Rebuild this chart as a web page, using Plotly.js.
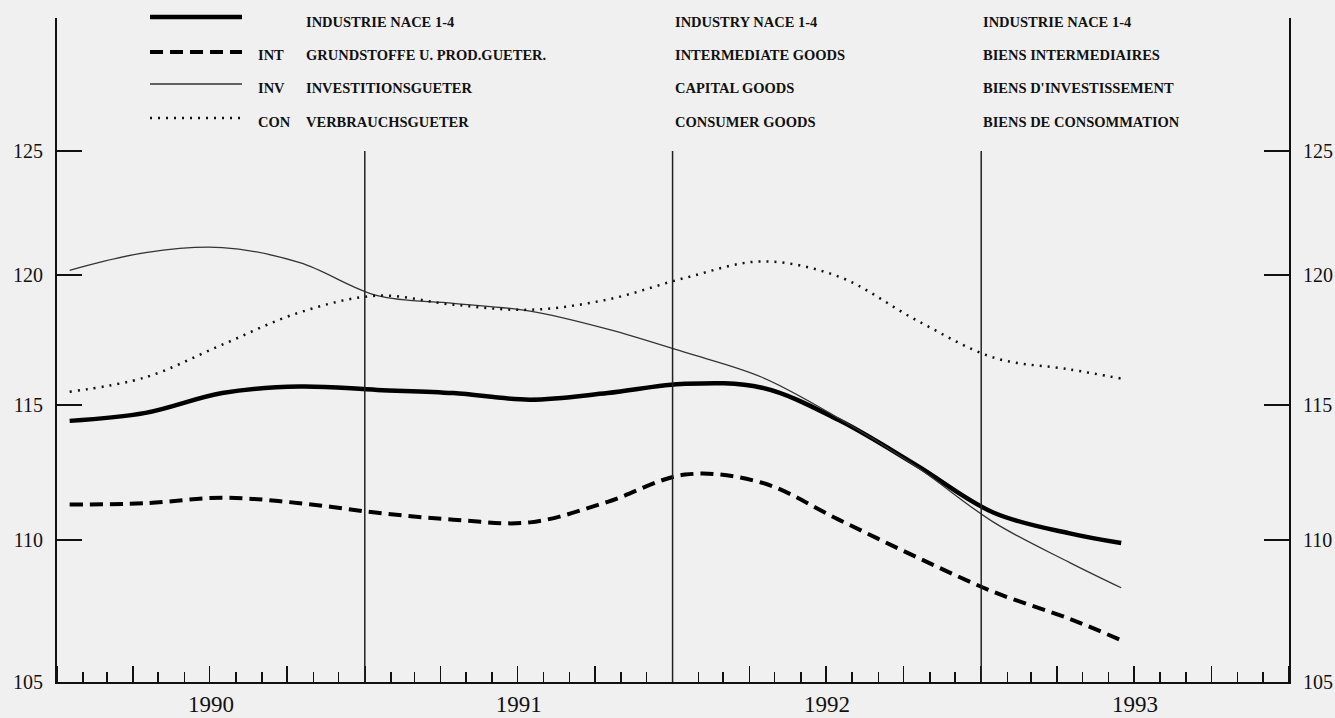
<!DOCTYPE html>
<html>
<head>
<meta charset="utf-8">
<script src="https://cdn.plot.ly/plotly-3.0.1.min.js"></script>
<style>html,body{margin:0;padding:0;background:#f0f0f0;}#chart{width:1335px;height:718px;}</style>
</head>
<body>
<div id="chart"></div>
<script>
// ---- data ----
const months = ['1990-01-16','1990-04-16','1990-07-16','1990-10-16',
                '1991-01-16','1991-04-16','1991-07-16','1991-10-16',
                '1992-01-16','1992-04-16','1992-07-16','1992-10-16',
                '1993-01-16','1993-04-16','1993-06-16'];
const industry     = [114.4,114.7,115.45,115.7,115.57,115.45,115.2,115.45,115.8,115.65,114.43,112.75,111.0,110.25,109.9];
const intermediate = [111.3,111.35,111.55,111.35,111.0,110.75,110.65,111.4,112.4,112.1,110.75,109.4,108.15,107.2,106.45];
const capital      = [120.2,120.9,121.1,120.5,119.2,118.9,118.6,117.9,117.0,116.05,114.5,112.7,110.65,109.2,108.3];
const consumer     = [115.5,116.05,117.3,118.55,119.2,118.85,118.65,119.05,119.9,120.55,119.95,118.25,116.8,116.35,116.0];

const yTicks = [105,110,115,120,125];
const yearBoundaries = ['1991-01-01','1992-01-01','1993-01-01'];

const codes   = ['', 'INT', 'INV', 'CON'];
const german  = ['INDUSTRIE NACE 1-4','GRUNDSTOFFE U. PROD.GUETER.','INVESTITIONSGUETER','VERBRAUCHSGUETER'];
const english = ['INDUSTRY NACE 1-4','INTERMEDIATE GOODS','CAPITAL GOODS','CONSUMER GOODS'];
const french  = ['INDUSTRIE NACE 1-4','BIENS INTERMEDIAIRES',"BIENS D'INVESTISSEMENT",'BIENS DE CONSOMMATION'];

// ---- styles ----
const styles = [
  {color:'#000', width:4.5, dash:'solid'},
  {color:'#000', width:4,   dash:'13px,7px'},
  {color:'#333', width:1.3, dash:'solid'},
  {color:'#111', width:2.5, dash:'2px,6px'}
];
const series = [industry, intermediate, capital, consumer];
// axes each series is drawn on (all share identical ranges; the extra ones make the
// right-hand value axis and the quarter tick marks visible)
const axesOf = [['x','y'],['x','y'],['x','y2'],['x2','y']];
const drawOrder = [2,3,1,0];

const traces = drawOrder.map(i => ({
  type:'scatter', mode:'lines', x: months, y: series[i],
  xaxis: axesOf[i][0], yaxis: axesOf[i][1],
  line:{color:styles[i].color, width:styles[i].width, dash:styles[i].dash, shape:'spline', smoothing:1},
  hoverinfo:'skip', showlegend:false
}));

// ---- layout ----
const L = 57, R = 46, T = 18, B = 36, W = 1335, H = 718;
const plotW = W - L - R, plotH = H - T - B;
const px = v => (v - L) / plotW;
const py = v => (H - B - v) / plotH;

const serif = 'Liberation Serif, DejaVu Serif, serif';
const legendFont = {family: serif, size: 14.5, color: '#111', weight:'bold'};

const shapes = [];
yearBoundaries.forEach(d => shapes.push({
  type:'line', xref:'x', yref:'y', x0:d, x1:d, y0:yTicks[0], y1:yTicks[yTicks.length-1],
  line:{color:'#222', width:1.5}
}));
const lineRowsY = [17, 52, 84, 118];
const textRowsY = [22, 55, 88, 122];
lineRowsY.forEach((yy, i) => shapes.push({
  type:'line', xref:'paper', yref:'paper', x0:px(150), x1:px(242), y0:py(yy), y1:py(yy),
  line:{color:styles[i].color, width:styles[i].width, dash:styles[i].dash}
}));

const annotations = [];
const addCol = (arr, xpix) => arr.forEach((t, i) => {
  if (!t) return;
  annotations.push({xref:'paper', yref:'paper', x:px(xpix), y:py(textRowsY[i]), text:t,
    showarrow:false, xanchor:'left', yanchor:'middle', font:legendFont});
});
addCol(codes, 256);
addCol(german, 304);
addCol(english, 673);
addCol(french, 981);

const yRange = [Math.log10(105), Math.log10(130.58)];
const yCommon = {
  type:'log', range:yRange, tickvals:yTicks, ticktext:yTicks.map(String),
  ticks:'inside', ticklen:25, tickwidth:1.8, tickcolor:'#111',
  showline:true, linecolor:'#111', linewidth:2, showgrid:false, zeroline:false,
  tickfont:{family:serif, size:20, color:'#111'}, ticklabelstandoff:8, fixedrange:true
};

const layout = {
  width:W, height:H,
  margin:{l:L, r:R, t:T, b:B, pad:0},
  paper_bgcolor:'#f0f0f0', plot_bgcolor:'#f0f0f0',
  showlegend:false,
  xaxis:{
    type:'date', range:['1990-01-01','1994-01-01'],
    tick0:'1990-01-01', dtick:'M12', ticklabelmode:'period', tickformat:'%Y',
    ticks:'inside', ticklen:16, tickwidth:1.5, tickcolor:'#111',
    showline:true, linecolor:'#111', linewidth:2, showgrid:false, zeroline:false,
    tickfont:{family:serif, size:23, color:'#111'},
    minor:{tick0:'1990-01-01', dtick:'M1', ticks:'inside', ticklen:10, tickwidth:1.5, tickcolor:'#111', showgrid:false},
    fixedrange:true
  },
  xaxis2:{
    type:'date', range:['1990-01-01','1994-01-01'], overlaying:'x', anchor:'y', side:'bottom',
    tick0:'1990-01-01', dtick:'M3', ticks:'inside', ticklen:16, tickwidth:1.5, tickcolor:'#111',
    showticklabels:false, showline:false, showgrid:false, zeroline:false, fixedrange:true
  },
  yaxis: Object.assign({}, yCommon, {side:'left'}),
  yaxis2: Object.assign({}, yCommon, {side:'right', overlaying:'y', anchor:'x'}),
  shapes: shapes,
  annotations: annotations
};

Plotly.newPlot('chart', traces, layout, {staticPlot:true, displayModeBar:false});
</script>
</body>
</html>
